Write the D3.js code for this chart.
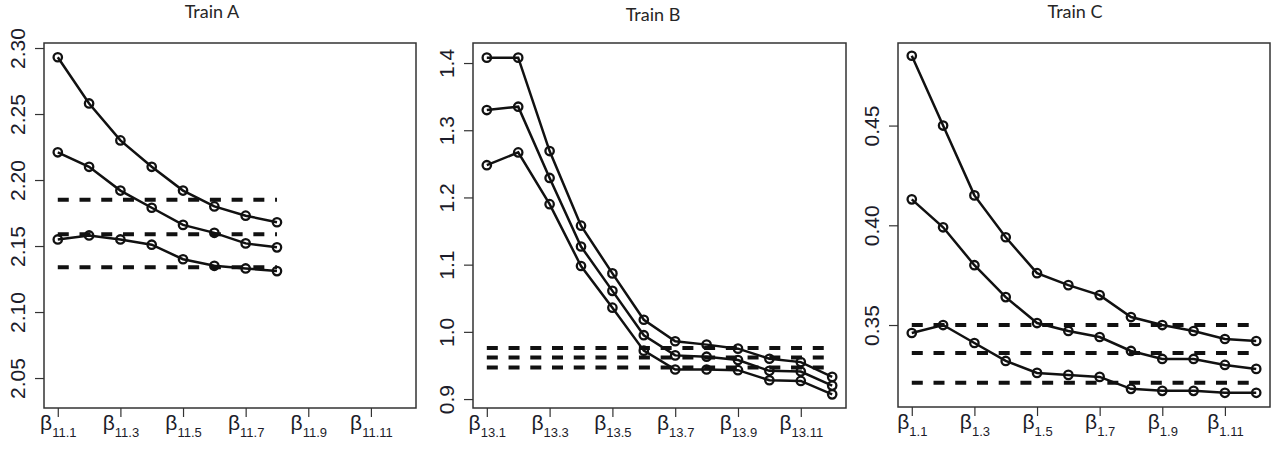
<!DOCTYPE html>
<html>
<head>
<meta charset="utf-8">
<script src="https://cdn.jsdelivr.net/npm/d3@7"></script>
<style>
  body { margin: 0; background: #fff; }
  svg { display: block; }
</style>
</head>
<body>
<svg width="1278" height="450"></svg>
<script>
// x positions (beta index) for each panel
const stepsA = [1, 2, 3, 4, 5, 6, 7, 8];
const stepsB = [1, 2, 3, 4, 5, 6, 7, 8, 9, 10, 11, 12];
const stepsC = [1, 2, 3, 4, 5, 6, 7, 8, 9, 10, 11, 12];

// Train A
const trainA_upper = [2.293, 2.258, 2.230, 2.210, 2.192, 2.180, 2.173, 2.168];
const trainA_mid   = [2.221, 2.210, 2.192, 2.179, 2.166, 2.160, 2.152, 2.149];
const trainA_low   = [2.155, 2.158, 2.155, 2.151, 2.140, 2.135, 2.133, 2.131];
const trainA_ref   = [2.185, 2.159, 2.134];

// Train B
const trainB_upper = [1.408, 1.408, 1.269, 1.158, 1.087, 1.018, 0.986, 0.981, 0.975, 0.960, 0.955, 0.933];
const trainB_mid   = [1.330, 1.335, 1.229, 1.127, 1.061, 0.995, 0.965, 0.963, 0.958, 0.942, 0.941, 0.920];
const trainB_low   = [1.248, 1.267, 1.190, 1.098, 1.036, 0.972, 0.944, 0.944, 0.943, 0.928, 0.927, 0.907];
const trainB_ref   = [0.976, 0.962, 0.947];

// Train C
const trainC_upper = [0.485, 0.450, 0.415, 0.394, 0.376, 0.370, 0.365, 0.354, 0.350, 0.347, 0.343, 0.342];
const trainC_mid   = [0.413, 0.399, 0.380, 0.364, 0.351, 0.347, 0.344, 0.337, 0.333, 0.333, 0.330, 0.328];
const trainC_low   = [0.346, 0.350, 0.341, 0.332, 0.326, 0.325, 0.324, 0.318, 0.317, 0.317, 0.316, 0.316];
const trainC_ref   = [0.350, 0.336, 0.321];

// ticks
const xTickPos = [1, 3, 5, 7, 9, 11];
const xSubsA = ['11.1', '11.3', '11.5', '11.7', '11.9', '11.11'];
const xSubsB = ['13.1', '13.3', '13.5', '13.7', '13.9', '13.11'];
const xSubsC = ['1.1', '1.3', '1.5', '1.7', '1.9', '1.11'];
const yTicksA = [2.05, 2.10, 2.15, 2.20, 2.25, 2.30];
const yTicksB = [0.9, 1.0, 1.1, 1.2, 1.3, 1.4];
const yTicksC = [0.35, 0.40, 0.45];

const panels = [
  { title: 'Train A', titleX: 212, titleY: 18, box: [44, 416, 43, 408],
    yDomain: [2.0273, 2.3038], yTicks: yTicksA, yFmt: '.2f',
    steps: stepsA, series: [trainA_upper, trainA_mid, trainA_low], refs: trainA_ref, subs: xSubsA },
  { title: 'Train B', titleX: 653, titleY: 21, box: [473, 846, 43, 408],
    yDomain: [0.8867, 1.4298], yTicks: yTicksB, yFmt: '.1f',
    steps: stepsB, series: [trainB_upper, trainB_mid, trainB_low], refs: trainB_ref, subs: xSubsB },
  { title: 'Train C', titleX: 1075, titleY: 18, box: [898, 1270, 43, 407],
    yDomain: [0.3089, 0.4914], yTicks: yTicksC, yFmt: '.2f',
    steps: stepsC, series: [trainC_upper, trainC_mid, trainC_low], refs: trainC_ref, subs: xSubsC }
];

const svg = d3.select('svg');
const ink = '#111';

panels.forEach(p => {
  const [left, right, top, bottom] = p.box;
  const x = d3.scaleLinear().domain([0.56, 12.44]).range([left, right]);
  const y = d3.scaleLinear().domain(p.yDomain).range([bottom, top]);
  const g = svg.append('g');

  g.append('text')
    .attr('x', p.titleX).attr('y', p.titleY)
    .attr('text-anchor', 'middle')
    .attr('font-family', 'Lato, "Open Sans", sans-serif')
    .attr('font-size', 18)
    .attr('fill', '#262626')
    .text(p.title);

  // y axis
  const yAxis = g.append('g')
    .attr('transform', `translate(${left},0)`)
    .call(d3.axisLeft(y).tickValues(p.yTicks).tickSize(9).tickFormat(d3.format(p.yFmt)));
  yAxis.select('.domain').remove();
  yAxis.selectAll('line').attr('stroke', '#333').attr('stroke-width', 1.2);
  yAxis.selectAll('text')
    .attr('x', null).attr('dy', null)
    .attr('transform', 'translate(-19,0) rotate(-90)')
    .attr('y', 0)
    .attr('text-anchor', 'middle')
    .attr('font-family', '"Liberation Sans", Arial, sans-serif')
    .attr('font-size', 21)
    .attr('fill', '#1c1c2a');

  // x axis
  const xAxis = g.append('g')
    .attr('transform', `translate(0,${bottom})`)
    .call(d3.axisBottom(x).tickValues(xTickPos).tickSize(9).tickFormat(() => ''));
  xAxis.select('.domain').remove();
  xAxis.selectAll('line').attr('stroke', '#333').attr('stroke-width', 1.2);
  xAxis.selectAll('text').remove();
  xAxis.selectAll('.tick').each(function (d, i) {
    const t = d3.select(this).append('text')
      .attr('y', 22)
      .attr('text-anchor', 'middle')
      .attr('font-family', '"Liberation Sans", Arial, sans-serif')
      .attr('fill', '#1c1c2a');
    t.append('tspan').attr('font-size', 21).text('β');
    t.append('tspan').attr('font-size', 13).attr('dy', 7).text(p.subs[i]);
  });

  // frame
  g.append('rect')
    .attr('x', left).attr('y', top)
    .attr('width', right - left).attr('height', bottom - top)
    .attr('fill', 'none').attr('stroke', '#333').attr('stroke-width', 1.5);

  // dashed reference lines
  const x0 = p.steps[0], x1 = p.steps[p.steps.length - 1];
  g.selectAll('.ref')
    .data(p.refs)
    .join('line')
    .attr('class', 'ref')
    .attr('x1', x(x0)).attr('x2', x(x1))
    .attr('y1', d => y(d)).attr('y2', d => y(d))
    .attr('stroke', ink)
    .attr('stroke-width', 4)
    .attr('stroke-dasharray', '11,10.73');

  const line = d3.line().x((d, i) => x(p.steps[i])).y(d => y(d));
  p.series.forEach(s => {
    g.append('path')
      .attr('d', line(s))
      .attr('fill', 'none')
      .attr('stroke', ink)
      .attr('stroke-width', 2.5);
    g.selectAll(null)
      .data(s)
      .join('circle')
      .attr('cx', (d, i) => x(p.steps[i]))
      .attr('cy', d => y(d))
      .attr('r', 4.2)
      .attr('fill', 'none')
      .attr('stroke', ink)
      .attr('stroke-width', 2.3);
  });
});
</script>
</body>
</html>
